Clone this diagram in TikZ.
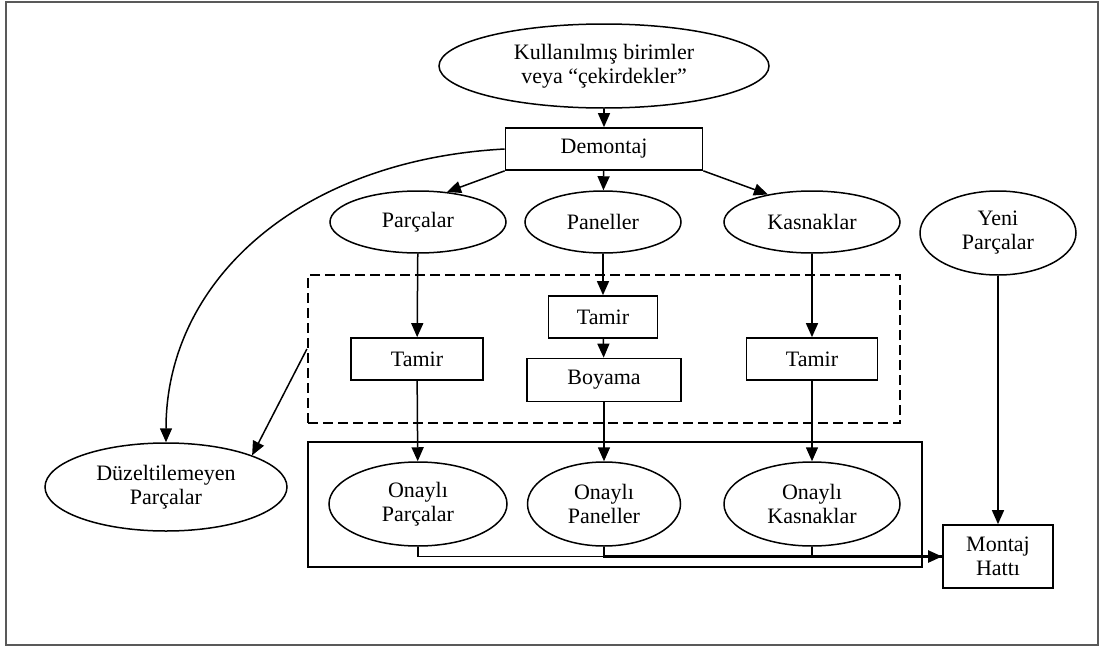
\documentclass[tikz,border=0pt]{standalone}
\usepackage{fontspec}
\setmainfont{Liberation Serif}
\usetikzlibrary{shapes.geometric,arrows.meta}
\begin{document}
\begin{tikzpicture}[x=1pt,y=-1pt,
  every node/.style={font=\fontsize{22}{24}\selectfont, align=center, inner sep=0pt},
  oval/.style={draw, ellipse, line width=1.5pt},
  stepbox/.style={draw, rectangle, line width=1.7pt},
  tip/.style={-{Triangle[length=14pt,width=12pt]}},
  flow/.style={line width=1.5pt, tip},
  link/.style={line width=1.3pt}]
\useasboundingbox (0,0) rectangle (1104,648);
\draw[line width=2pt, draw=black!65] (6,2) rectangle (1098,645);

% grouping frames
\node[draw, dash pattern=on 10pt off 5pt, line width=2.2pt,
      minimum width=592pt, minimum height=148pt] (repair) at (604,349) {};
\node[draw, line width=2.2pt, minimum width=614pt, minimum height=125pt] (approved) at (615,504.5) {};

% nodes
\node[oval, minimum width=330pt, minimum height=84pt] (cores) at (604,66)
  {Kullanılmış birimler\\veya “çekirdekler”};
\node[stepbox, minimum width=197pt, minimum height=42pt] (demontaj) at (604,149) {Demontaj};
\node[oval, minimum width=176pt, minimum height=62pt] (parcalar) at (418,222) {Parçalar};
\node[oval, minimum width=156pt, minimum height=62pt] (paneller) at (603,222) {Paneller};
\node[oval, minimum width=176pt, minimum height=62pt] (kasnaklar) at (812,222) {Kasnaklar};
\node[oval, minimum width=156pt, minimum height=84pt] (yeni) at (998,233) {Yeni\\Parçalar};

\node[stepbox, minimum width=132pt, minimum height=42pt] (tamirA) at (417,359) {Tamir};
\node[stepbox, minimum width=109pt, minimum height=42pt] (tamirB) at (603,317) {Tamir};
\node[stepbox, minimum width=154pt, minimum height=43pt] (boyama) at (604,380) {Boyama};
\node[stepbox, minimum width=131pt, minimum height=42pt] (tamirC) at (812,359) {Tamir};

\node[oval, minimum width=178pt, minimum height=84pt] (onayA) at (418,504) {Onaylı\\Parçalar};
\node[oval, minimum width=153pt, minimum height=84pt] (onayB) at (604,504) {Onaylı\\Paneller};
\node[oval, minimum width=176pt, minimum height=84pt] (onayC) at (812,504) {Onaylı\\Kasnaklar};

\node[oval, minimum width=242pt, minimum height=88pt] (duz) at (166,487) {Düzeltilemeyen\\Parçalar};
\node[stepbox, minimum width=110pt, minimum height=63pt] (montaj) at (998,556.5) {Montaj\\Hattı};

% connectors
\draw[flow] (cores) -- (demontaj);
\draw[flow] (demontaj.south west) -- (parcalar.46);
\draw[flow] (demontaj) -- (paneller);
\draw[flow] (demontaj.south east) -- (kasnaklar.148);

\draw[flow] (parcalar) -- (tamirA);
\draw[flow] (tamirA) -- (onayA);
\draw[flow] (paneller) -- (tamirB);
\draw[flow] (tamirB) -- (boyama);
\draw[flow] (boyama) -- (onayB);
\draw[flow] (kasnaklar) -- (tamirC);
\draw[flow] (tamirC) -- (onayC);
\draw[flow] (yeni) -- (montaj);

\draw[flow] (demontaj.west) .. controls (300,160) and (166,280) .. (duz.north);
\draw[flow] (repair.west) -- (duz.north east);

\draw[link] (onayA.south) |- (montaj.west);
\draw[link, line width=2.2pt] (onayB.south) |- (montaj.west);
\draw[link, line width=2.2pt, tip] (onayC.south) |- (montaj.west);
\end{tikzpicture}
\end{document}
